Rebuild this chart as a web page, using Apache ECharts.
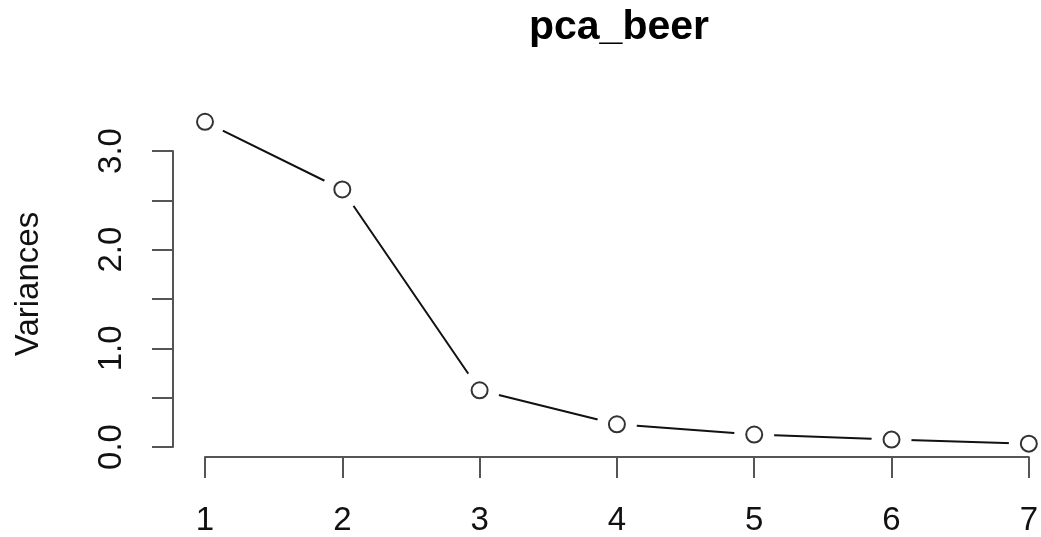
<!DOCTYPE html>
<html>
<head>
<meta charset="utf-8">
<script src="https://cdn.jsdelivr.net/npm/echarts@6/dist/echarts.min.js"></script>
<style>html,body{margin:0;padding:0;background:#fff;}#c{width:1041px;height:537px;}</style>
</head>
<body>
<div id="c"></div>
<script>
var components = ['1', '2', '3', '4', '5', '6', '7'];
var variances = [3.296, 2.61, 0.575, 0.23, 0.126, 0.075, 0.034];
var yTickLabels = ['0.0', '1.0', '2.0', '3.0'];
var chartTitle = 'pca_beer';
var yName = 'Variances';

var FONT = '"Liberation Sans", Arial, Helvetica, sans-serif';
var chart = echarts.init(document.getElementById('c'), null, {renderer: 'canvas'});
chart.setOption({
  backgroundColor: '#fff',
  animation: false,
  title: {
    text: chartTitle,
    left: 614, top: 2, textAlign: 'center',
    textStyle: {fontFamily: FONT, fontSize: 41, fontWeight: 'bold', color: '#000'}
  },
  grid: {left: 205, right: 9, top: 151, bottom: 90, containLabel: false},
  xAxis: {
    type: 'category', data: components, boundaryGap: false,
    offset: 10, z: 2,
    axisLine: {show: true, onZero: false, lineStyle: {color: '#555', width: 2}},
    axisTick: {show: true, length: 21, alignWithLabel: true, lineStyle: {color: '#555', width: 2}},
    axisLabel: {fontFamily: FONT, fontSize: 33, color: '#111', margin: 47},
    splitLine: {show: false}
  },
  yAxis: {
    type: 'value', min: 0, max: 3, interval: 0.5,
    offset: 32, z: 2,
    name: yName, nameLocation: 'middle', nameRotate: 90, nameGap: 128,
    nameTextStyle: {fontFamily: FONT, fontSize: 33, color: '#111', padding: [0, 0, 0, 30]},
    axisLine: {show: true, onZero: false, lineStyle: {color: '#555', width: 2}},
    axisTick: {show: true, length: 21, lineStyle: {color: '#555', width: 2}},
    axisLabel: {
      fontFamily: FONT, fontSize: 33, color: '#111', margin: 45, rotate: 90,
      formatter: function (v) {
        var idx = yTickLabels.indexOf(v.toFixed(1));
        return (Number.isInteger(v) && idx >= 0) ? yTickLabels[idx] : '';
      }
    },
    splitLine: {show: false}
  },
  series: [
    {
      type: 'line', data: variances, clip: false, z: 1,
      lineStyle: {color: '#111', width: 2},
      symbol: 'circle', symbolSize: 40,
      itemStyle: {color: '#fff', borderWidth: 0}
    },
    {
      type: 'scatter', data: variances, clip: false, z: 3,
      symbol: 'circle', symbolSize: 16,
      itemStyle: {color: '#fff', borderColor: '#000', borderWidth: 2}
    }
  ]
});
</script>
</body>
</html>
